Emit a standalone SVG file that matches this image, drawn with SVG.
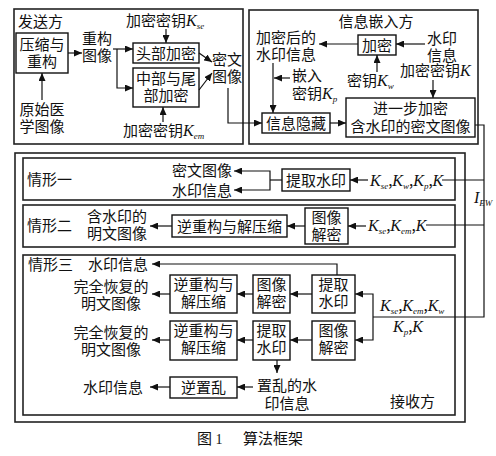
<svg xmlns="http://www.w3.org/2000/svg" width="496" height="456" viewBox="0 0 496 456">
<style>
text{font-family:"Noto Sans CJK SC","Noto Sans",sans-serif;font-size:15px;fill:#111}
.m{text-anchor:middle}
.k{font-family:"Liberation Serif",serif;font-style:italic;font-size:16px}
.s{font-family:"Liberation Serif",serif;font-style:italic;font-size:9px}
.c{font-family:"Liberation Serif",serif;font-size:14px}
.box{fill:#fff;stroke:#111;stroke-width:1.4}
.frame{fill:none;stroke:#222;stroke-width:1.6}
.ln{fill:none;stroke:#111;stroke-width:1.2}
.ar{fill:none;stroke:#111;stroke-width:1.2;marker-end:url(#ah)}
</style>
<defs>
<marker id="ah" markerUnits="userSpaceOnUse" markerWidth="9" markerHeight="7" refX="8" refY="3.5" orient="auto">
<path d="M0,0 L8,3.5 L0,7 Z" fill="#111"/>
</marker>
</defs>
<rect width="496" height="456" fill="#fff"/>

<!-- frames -->
<g id="sender">
<rect class="frame" x="14" y="9" width="229" height="135"/>
<text x="18" y="27">发送方</text>
</g>
<g id="embedder">
<rect class="frame" x="249" y="10" width="229" height="134"/>
<text class="m" x="376" y="27">信息嵌入方</text>
</g>
<g id="receiver">
<rect class="frame" x="15" y="153" width="450" height="269"/>
<text x="390" y="407">接收方</text>
</g>
<g id="case1frame">
<rect class="frame" x="23" y="158" width="432" height="42"/>
<text x="27" y="185">情形一</text>
</g>
<g id="case2frame">
<rect class="frame" x="23" y="205" width="432" height="42"/>
<text x="27" y="231">情形二</text>
</g>
<g id="case3frame">
<rect class="frame" x="23" y="255" width="432" height="160"/>
<text x="28" y="270">情形三</text>
</g>

<!-- sender nodes -->
<g id="compress">
<rect class="box" x="16" y="33" width="52" height="40"/>
<text class="m" x="42" y="50">压缩与<tspan x="42" dy="17">重构</tspan></text>
</g>
<g id="orig">
<text class="m" x="42" y="115">原始医<tspan x="42" dy="17">学图像</tspan></text>
</g>
<g id="recon">
<text class="m" x="97" y="44">重构<tspan x="97" dy="17">图像</tspan></text>
</g>
<g id="kse">
<text x="126" y="26">加密密钥<tspan class="k">K</tspan><tspan class="s" dy="3">se</tspan></text>
</g>
<g id="headenc">
<rect class="box" x="133" y="43" width="66" height="20"/>
<text class="m" x="166" y="58.5">头部加密</text>
</g>
<g id="midenc">
<rect class="box" x="133" y="68" width="66" height="39"/>
<text class="m" x="166" y="84">中部与尾<tspan x="166" dy="17">部加密</tspan></text>
</g>
<g id="kem">
<text x="123" y="136">加密密钥<tspan class="k">K</tspan><tspan class="s" dy="3">em</tspan></text>
</g>
<g id="cipher">
<text class="m" x="227" y="65">密文<tspan x="227" dy="17">图像</tspan></text>
</g>

<!-- embedder nodes -->
<g id="encwm">
<text class="m" x="286" y="43">加密后的<tspan x="286" dy="17">水印信息</tspan></text>
</g>
<g id="enc">
<rect class="box" x="358" y="35" width="38" height="20"/>
<text class="m" x="377" y="50.5">加密</text>
</g>
<g id="wm">
<text class="m" x="442" y="44">水印<tspan x="442" dy="17">信息</tspan></text>
</g>
<g id="kw">
<text x="347" y="86">密钥<tspan class="k">K</tspan><tspan class="s" dy="3">w</tspan></text>
</g>
<g id="kk">
<text x="400" y="76">加密密钥<tspan class="k">K</tspan></text>
</g>
<g id="kp">
<text x="292" y="81">嵌入<tspan x="292" dy="18">密钥</tspan><tspan class="k">K</tspan><tspan class="s" dy="3">p</tspan></text>
</g>
<g id="hide">
<rect class="box" x="262" y="113" width="68" height="20"/>
<text class="m" x="296" y="128.5">信息隐藏</text>
</g>
<g id="further">
<rect class="box" x="346" y="98" width="129" height="39"/>
<text class="m" x="410.5" y="114">进一步加密<tspan x="410.5" dy="18">含水印的密文图像</tspan></text>
</g>
<g id="iew">
<text x="474" y="203"><tspan class="k">I</tspan><tspan class="s" dy="3">EW</tspan></text>
</g>

<!-- case 1 -->
<g id="c1out">
<text x="172" y="175.5">密文图像<tspan x="172" dy="20">水印信息</tspan></text>
</g>
<g id="c1extract">
<rect class="box" x="282" y="169" width="68" height="22"/>
<text class="m" x="316" y="185.5">提取水印</text>
</g>
<g id="c1keys">
<text x="370" y="186"><tspan class="k">K</tspan><tspan class="s" dy="3">se</tspan><tspan dy="-3">,</tspan><tspan class="k">K</tspan><tspan class="s" dy="3">w</tspan><tspan dy="-3">,</tspan><tspan class="k">K</tspan><tspan class="s" dy="3">p</tspan><tspan dy="-3">,</tspan><tspan class="k">K</tspan></text>
</g>

<!-- case 2 -->
<g id="c2out">
<text class="m" x="117" y="222">含水印的<tspan x="117" dy="17">明文图像</tspan></text>
</g>
<g id="c2inv">
<rect class="box" x="172" y="215" width="115" height="22"/>
<text class="m" x="229.5" y="231.5">逆重构与解压缩</text>
</g>
<g id="c2dec">
<rect class="box" x="305" y="208" width="43" height="36"/>
<text class="m" x="326.5" y="223">图像<tspan x="326.5" dy="17">解密</tspan></text>
</g>
<g id="c2keys">
<text x="368" y="231"><tspan class="k">K</tspan><tspan class="s" dy="3">se</tspan><tspan dy="-3">,</tspan><tspan class="k">K</tspan><tspan class="s" dy="3">em</tspan><tspan dy="-3">,</tspan><tspan class="k">K</tspan></text>
</g>

<!-- case 3 -->
<g id="c3wm1"><text x="88" y="270">水印信息</text></g>
<g id="c3out1">
<text class="m" x="111" y="292">完全恢复的<tspan x="111" dy="17">明文图像</tspan></text>
</g>
<g id="c3inv1">
<rect class="box" x="170" y="275" width="67" height="38"/>
<text class="m" x="203.5" y="290">逆重构与<tspan x="203.5" dy="17">解压缩</tspan></text>
</g>
<g id="c3dec1">
<rect class="box" x="253" y="275" width="37" height="38"/>
<text class="m" x="271.5" y="290">图像<tspan x="271.5" dy="17">解密</tspan></text>
</g>
<g id="c3ext1">
<rect class="box" x="312" y="275" width="43" height="38"/>
<text class="m" x="333.5" y="290">提取<tspan x="333.5" dy="17">水印</tspan></text>
</g>
<g id="c3out2">
<text class="m" x="111" y="338">完全恢复的<tspan x="111" dy="17">明文图像</tspan></text>
</g>
<g id="c3inv2">
<rect class="box" x="170" y="321" width="67" height="39"/>
<text class="m" x="203.5" y="336">逆重构与<tspan x="203.5" dy="17">解压缩</tspan></text>
</g>
<g id="c3ext2">
<rect class="box" x="253" y="321" width="37" height="39"/>
<text class="m" x="271.5" y="336">提取<tspan x="271.5" dy="17">水印</tspan></text>
</g>
<g id="c3dec2">
<rect class="box" x="312" y="321" width="43" height="39"/>
<text class="m" x="333.5" y="336">图像<tspan x="333.5" dy="17">解密</tspan></text>
</g>
<g id="c3keys">
<text x="380" y="311"><tspan class="k">K</tspan><tspan class="s" dy="3">se</tspan><tspan dy="-3">,</tspan><tspan class="k">K</tspan><tspan class="s" dy="3">em</tspan><tspan dy="-3">,</tspan><tspan class="k">K</tspan><tspan class="s" dy="3">w</tspan><tspan class="k" x="393" dy="18">K</tspan><tspan class="s" dy="3">p</tspan><tspan dy="-3">,</tspan><tspan class="k">K</tspan></text>
</g>
<g id="c3scr">
<text class="m" x="287" y="391">置乱的水<tspan x="287" dy="18">印信息</tspan></text>
</g>
<g id="c3unscr">
<rect class="box" x="170" y="377" width="67" height="21"/>
<text class="m" x="203.5" y="393">逆置乱</text>
</g>
<g id="c3wm2"><text x="83" y="393">水印信息</text></g>

<g id="caption">
<text x="197" y="444">图 <tspan class="c">1</tspan><tspan x="243">算法框架</tspan></text>
</g>

<!-- connectors -->
<g id="connectors">
<path class="ar" d="M42,100 V73"/>
<path class="ar" d="M68,53 H82"/>
<path class="ar" d="M113,49 H133"/>
<path class="ar" d="M117,49 V88 H133"/>
<path class="ar" d="M166,29 V43"/>
<path class="ar" d="M163,122 V107"/>
<path class="ar" d="M199,53 L212,62"/>
<path class="ar" d="M199,90 L212,73"/>
<path class="ar" d="M228,88 V123 H262"/>
<path class="ar" d="M358,44 H319"/>
<path class="ar" d="M425,44 H396"/>
<path class="ar" d="M377,72 V55"/>
<path class="ar" d="M433,80 V98"/>
<path class="ar" d="M273,63 V113"/>
<path class="ar" d="M290,78 H274"/>
<path class="ar" d="M330,123 H346"/>
<path class="ln" d="M475,125 H484 V317 H373"/>
<path class="ln" d="M484,180 H442"/>
<path class="ln" d="M484,225 H426"/>
<path class="ar" d="M368,180 H350"/>
<path class="ln" d="M282,180 H270"/>
<path class="ar" d="M270,180 V171 H234"/>
<path class="ar" d="M270,180 V190 H234"/>
<path class="ar" d="M366,226 H348"/>
<path class="ar" d="M305,226 H287"/>
<path class="ar" d="M172,226 H150"/>
<path class="ar" d="M337,275 V264 H152"/>
<path class="ar" d="M373,317 V294 H355"/>
<path class="ar" d="M373,317 V340 H355"/>
<path class="ar" d="M312,294 H290"/>
<path class="ar" d="M253,294 H237"/>
<path class="ar" d="M170,294 H152"/>
<path class="ar" d="M312,340 H290"/>
<path class="ar" d="M253,340 H237"/>
<path class="ar" d="M170,340 H152"/>
<path class="ar" d="M277,360 V373"/>
<path class="ar" d="M253,387 H237"/>
<path class="ar" d="M170,387 H150"/>
</g>
</svg>
